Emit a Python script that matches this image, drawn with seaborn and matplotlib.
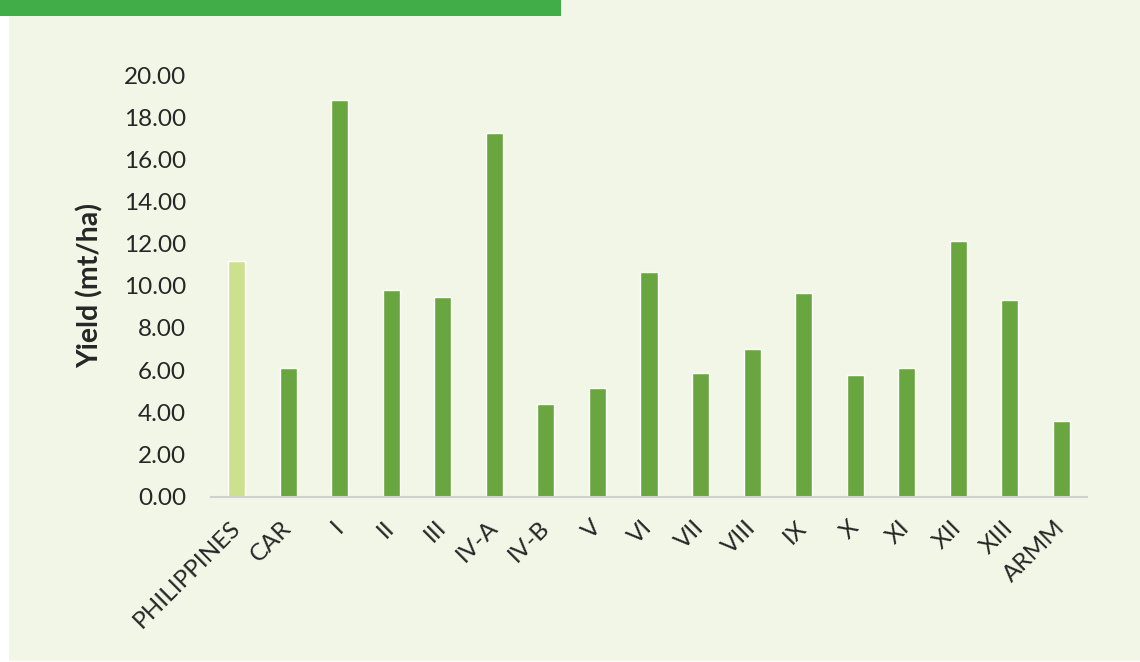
import matplotlib
matplotlib.use("Agg")
import matplotlib.pyplot as plt
import seaborn as sns
import pandas as pd
from matplotlib.patches import Rectangle
from matplotlib.ticker import FormatStrFormatter

# Yield by region (mt/ha)
regions = ["PHILIPPINES", "CAR", "I", "II", "III", "IV-A", "IV-B", "V", "VI",
           "VII", "VIII", "IX", "X", "XI", "XII", "XIII", "ARMM"]
yields = [11.17, 6.11, 18.81, 9.80, 9.48, 17.23, 4.37, 5.16, 10.64,
          5.84, 7.01, 9.67, 5.76, 6.11, 12.13, 9.32, 3.60]
y_ticks = [0, 2, 4, 6, 8, 10, 12, 14, 16, 18, 20]

BG = "#f2f6e6"
BAR = "#69a63f"
BAR_NATIONAL = "#cde08e"
HEADER = "#41ad49"
TEXT = "#262626"

sns.set_theme(style="white")
plt.rcParams["font.family"] = ["Lato", "DejaVu Sans"]

df = pd.DataFrame({"region": regions, "yield": yields})
palette = {r: (BAR_NATIONAL if r == "PHILIPPINES" else BAR) for r in regions}

fig = plt.figure(figsize=(11.4, 6.62), dpi=100, facecolor="white")
W, H = 1140, 662

# page background and header strip
fig.patches.append(Rectangle((9 / W, 1 / H), 1 - 9 / W, 1, transform=fig.transFigure,
                             facecolor=BG, edgecolor="none", zorder=-10))
fig.patches.append(Rectangle((0, 1 - 16 / H), 561 / W, 16 / H, transform=fig.transFigure,
                             facecolor=HEADER, edgecolor="none", zorder=-9))

ax = fig.add_axes([211 / W, 1 - 496.5 / H, 876 / W, (496.5 - 75) / H])
ax.set_facecolor("none")
ax.set_zorder(5)

sns.barplot(data=df, x="region", y="yield", hue="region", palette=palette,
            order=regions, width=0.33, legend=False, saturation=1, ax=ax)

ax.set_xlim(-0.5, len(regions) - 0.5)
ax.set_ylim(0, 20)
ax.set_yticks(y_ticks)
ax.yaxis.set_major_formatter(FormatStrFormatter("%.2f"))

for side in ["top", "right", "left"]:
    ax.spines[side].set_visible(False)
ax.spines["bottom"].set_color("#d0d0cc")
ax.spines["bottom"].set_linewidth(1.5)

ax.tick_params(axis="y", length=0, pad=18, labelsize=17.5, labelcolor=TEXT)
ax.tick_params(axis="x", length=0, pad=20, labelsize=17.5, labelcolor=TEXT)
for lbl in ax.get_xticklabels():
    lbl.set_rotation(45)
    lbl.set_rotation_mode("anchor")
    lbl.set_ha("right")
    lbl.set_va("center")

ax.set_xlabel("")
ax.set_ylabel("Yield (mt/ha)", fontsize=20.5, fontweight="bold", color=TEXT)
ax.yaxis.set_label_coords(-0.123, 0.50)

fig.savefig("out.png", dpi=100, facecolor="white")
